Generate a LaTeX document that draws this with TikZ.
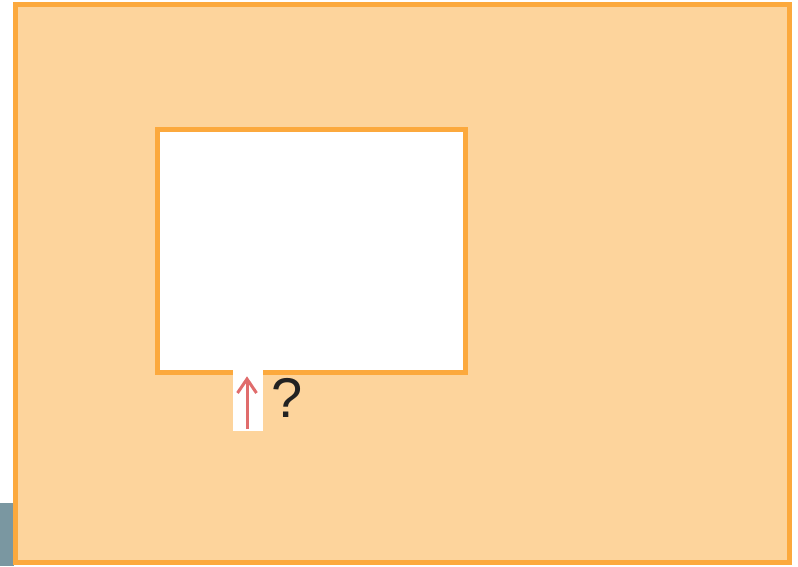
\documentclass[tikz,border=0pt]{standalone}
\usepackage{fontspec}
\setmainfont{Liberation Sans}
\definecolor{panelfill}{HTML}{FDD49C}
\definecolor{panelline}{HTML}{FCA93D}
\definecolor{slate}{HTML}{7A97A1}
\definecolor{arrowred}{HTML}{E06C6C}
\definecolor{qmark}{HTML}{222222}
\tikzset{
  panel/.style={draw=panelline,line width=5pt,fill=panelfill},
  hole/.style={draw=panelline,line width=5pt,fill=white},
  upbox/.style={fill=white,draw=none},
  uparrow/.style={draw=arrowred,line width=3pt,line cap=butt},
}
\begin{document}
\begin{tikzpicture}[x=1pt,y=-1pt]
\useasboundingbox (0,0) rectangle (798,566);
\fill[slate] (0,503) rectangle (14,566);
\draw[panel] (15,4.5) rectangle (789,562);
\draw[hole] (157,129) rectangle (465,372.5);
\node[upbox,minimum width=30pt,minimum height=61pt,inner sep=0pt,anchor=north west] (ab) at (233,370) {};
\coordinate (tip) at (247,379);
\coordinate (tail) at (247,429);
\draw[uparrow] (tail) -- (tip);
\draw[uparrow,line join=miter] (237.5,393) -- (tip) -- (256.5,393);
\node[text=qmark,font=\fontsize{56}{56}\selectfont,inner sep=0pt,anchor=base west] (q) at (271,417) {?};
\end{tikzpicture}
\end{document}
